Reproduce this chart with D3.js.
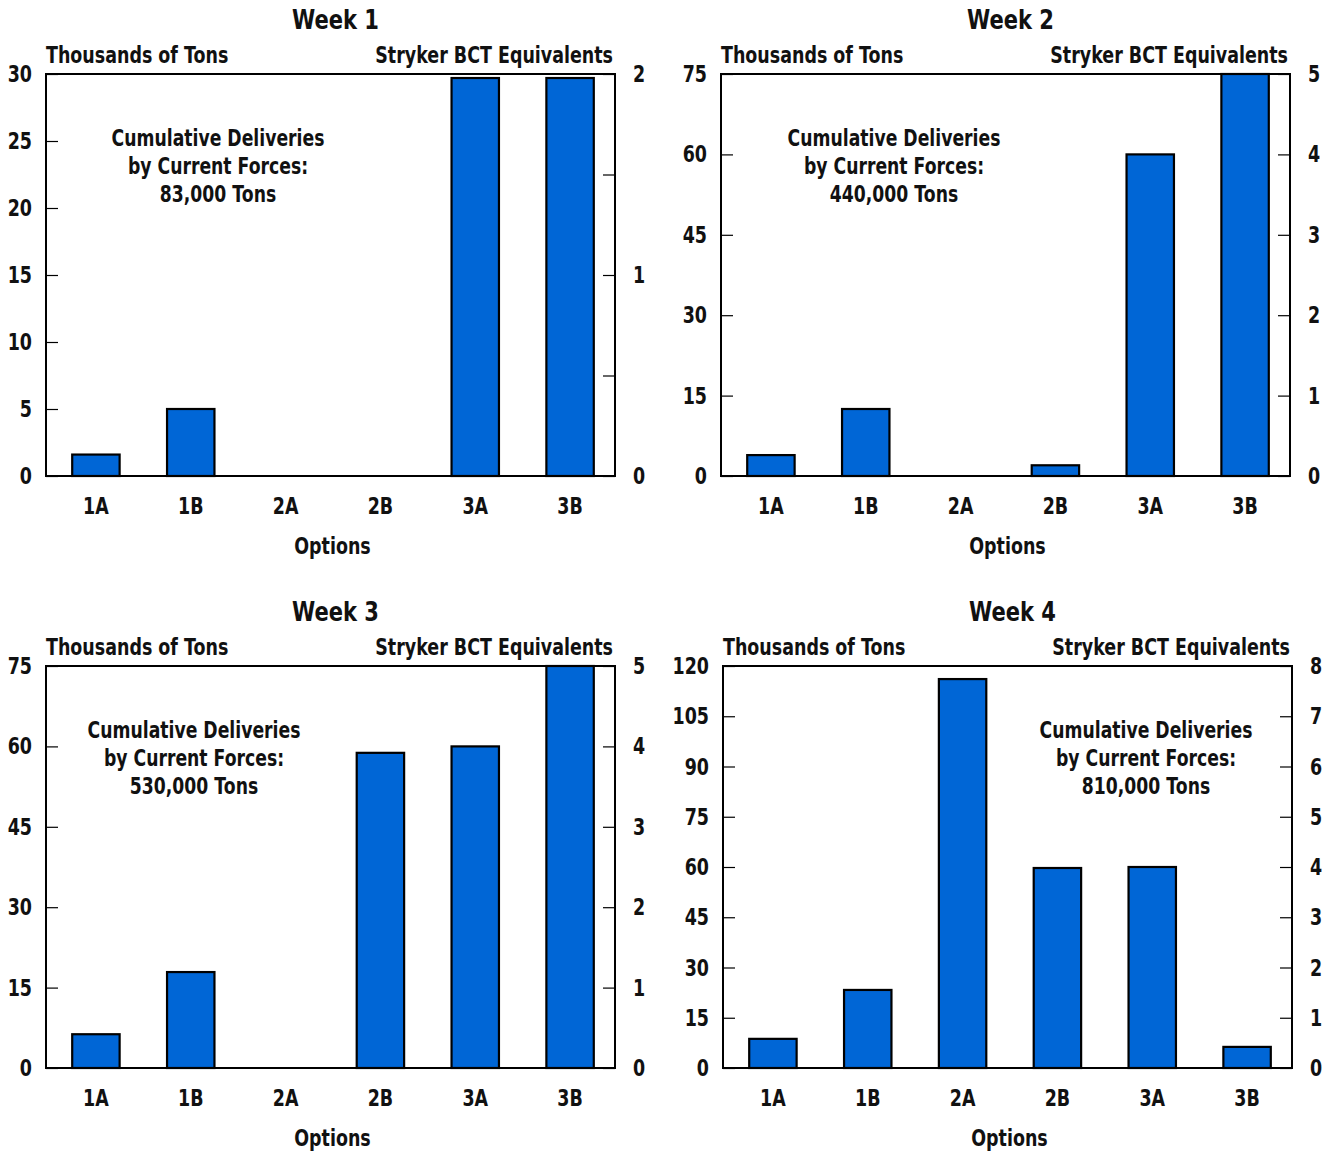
<!DOCTYPE html>
<html><head><meta charset="utf-8">
<script src="https://cdn.jsdelivr.net/npm/d3@7"></script>
<style>
body{margin:0;background:#fff;}
svg text{font-family:"DejaVu Sans",sans-serif;font-weight:bold;fill:#111;}
</style></head>
<body><svg id="c" width="1331" height="1153"></svg>
<script>
const categories = ["1A","1B","2A","2B","3A","3B"];
const weeks = ["Week 1","Week 2","Week 3","Week 4"];
const week1 = [1.6, 5.0, 0, 0, 29.7, 29.7];
const week2 = [3.9, 12.5, 0, 2.0, 60, 75];
const week3 = [6.3, 17.9, 0, 58.8, 60, 75];
const week4 = [8.7, 23.3, 116.1, 59.7, 60, 6.3];
const leftMax = [30, 75, 75, 120];
const leftStep = [5, 15, 15, 15];
const rightMax = [2, 5, 5, 8];
const rightStep = [0.5, 1, 1, 1];
const noteTotals = ["83,000 Tons", "440,000 Tons", "530,000 Tons", "810,000 Tons"];
const noteLines = ["Cumulative Deliveries", "by Current Forces:"];
const leftTitle = "Thousands of Tons";
const rightTitle = "Stryker BCT Equivalents";
const xTitle = "Options";
const series = [week1, week2, week3, week4];

// layout
const panels = [
  {x0:46, x1:615, y0:74, noteX:218},
  {x0:721, x1:1290, y0:74, noteX:894},
  {x0:46, x1:615, y0:666, noteX:194},
  {x0:723, x1:1292, y0:666, noteX:1146}
];
const plotH = 402;
const SX = 0.76;
const svg = d3.select("#c");

function label(g, x, y, txt, size, anchor, sx) {
  return g.append("text")
    .attr("transform", `translate(${x},${y}) scale(${sx || SX},1)`)
    .attr("text-anchor", anchor || "start")
    .style("font-size", size + "px")
    .text(txt);
}

panels.forEach((p, i) => {
  const g = svg.append("g");
  const x = d3.scaleBand().domain(categories).range([p.x0 + 2.5, p.x1 + 2.5]).paddingInner(0.5).paddingOuter(0.25);
  const y = d3.scaleLinear().domain([0, leftMax[i]]).range([p.y0 + plotH, p.y0]);
  const y2 = d3.scaleLinear().domain([0, rightMax[i]]).range([p.y0 + plotH, p.y0]);
  const cx = (p.x0 + p.x1) / 2;

  label(g, cx + 5, p.y0 - 45, weeks[i], 27, "middle", 0.78);
  label(g, p.x0, p.y0 - 11, leftTitle, 23, "start");
  label(g, p.x1 - 2, p.y0 - 11, rightTitle, 23, "end");

  // bars
  g.selectAll("rect.bar").data(series[i]).join("rect")
    .attr("x", (d, j) => x(categories[j]))
    .attr("width", x.bandwidth())
    .attr("y", d => y(d))
    .attr("height", d => y(0) - y(d))
    .attr("fill", "#0066d6").attr("stroke", "#000").attr("stroke-width", 2.2);

  // left axis ticks inward
  const lt = d3.range(0, leftMax[i] + 1e-9, leftStep[i]);
  const la = d3.axisRight(y).tickValues(lt).tickSize(12).tickFormat("");
  const lg = g.append("g").attr("transform", `translate(${p.x0},0)`).call(la);
  lg.select(".domain").remove();
  lg.selectAll(".tick line").attr("stroke","#000").attr("stroke-width",1.2);
  lt.forEach(d => label(g, p.x0 - 14, y(d) + 8, d, 23, "end"));

  // right axis ticks inward
  const rt = d3.range(0, rightMax[i] + 1e-9, rightStep[i]);
  const ra = d3.axisLeft(y2).tickValues(rt).tickSize(12).tickFormat("");
  const rg = g.append("g").attr("transform", `translate(${p.x1},0)`).call(ra);
  rg.select(".domain").remove();
  rg.selectAll(".tick line").attr("stroke","#000").attr("stroke-width",1.2);
  rt.filter(d => Number.isInteger(d)).forEach(d => label(g, p.x1 + 18, y2(d) + 8, d, 23, "start"));

  // frame
  g.append("rect").attr("x", p.x0).attr("y", p.y0).attr("width", p.x1 - p.x0).attr("height", plotH)
    .attr("fill","none").attr("stroke","#000").attr("stroke-width",2);

  // x labels
  categories.forEach(d => label(g, x(d) + x.bandwidth()/2, p.y0 + plotH + 38, d, 23, "middle"));
  label(g, cx + 2, p.y0 + plotH + 78, xTitle, 23, "middle");

  // note
  const lines = noteLines.concat([noteTotals[i]]);
  lines.forEach((d, k) => label(g, p.noteX, p.y0 + 72 + k * 28, d, 23, "middle", 0.75));
});
</script></body></html>
